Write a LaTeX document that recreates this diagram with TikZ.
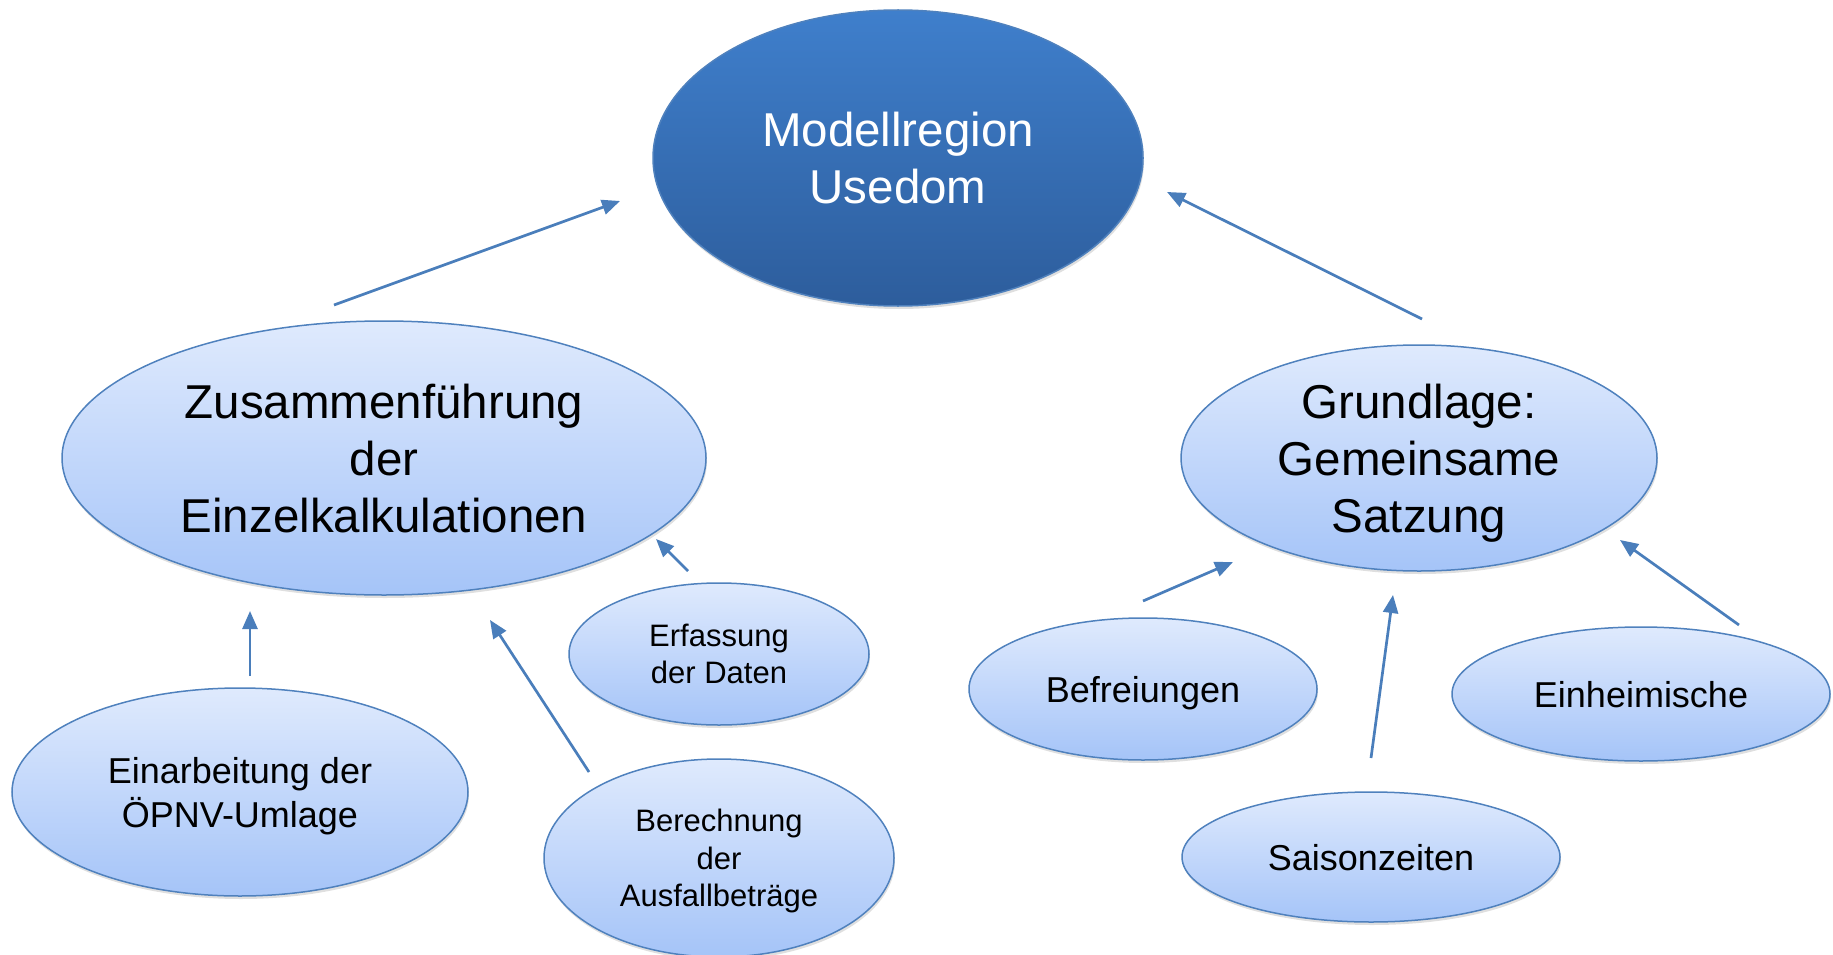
\documentclass[tikz,border=0pt]{standalone}
\usepackage{fontspec}
\setmainfont{Liberation Sans}
\usetikzlibrary{arrows.meta,shapes.geometric,shadows}
\definecolor{bordc}{HTML}{4F81BD}
\definecolor{arrc}{HTML}{4A7EBB}
\definecolor{lighttop}{HTML}{DFEAFD}
\definecolor{lightbot}{HTML}{A5C4F8}
\definecolor{darktop}{HTML}{3F7FCC}
\definecolor{darkbot}{HTML}{2D5D9C}
\tikzset{
  bub/.style={ellipse, draw=bordc, line width=1.5pt, inner sep=0pt, align=center,
    text depth=0pt, top color=lighttop, bottom color=lightbot, text=black,
    drop shadow={opacity=0.25, shadow xshift=1pt, shadow yshift=-3pt}},
  mainbub/.style={ellipse, draw=bordc, line width=1.5pt, inner sep=0pt, align=center,
    text depth=0pt, top color=darktop, bottom color=darkbot, text=white,
    drop shadow={opacity=0.25, shadow xshift=1pt, shadow yshift=-3pt}},
  big/.style={font=\fontsize{47.5}{57}\selectfont},
  mid/.style={font=\fontsize{36}{44}\selectfont},
  sml/.style={font=\fontsize{31}{37.5}\selectfont},
  arr/.style={draw=arrc, line width=2.7pt, -{Triangle[length=18pt,width=15pt]}}
}
\begin{document}
\begin{tikzpicture}[x=1pt,y=-1pt]
\useasboundingbox (0,0) rectangle (1833,955);
\node[mainbub, big, minimum width=490pt, minimum height=296pt] (top) at (898,158) {Modellregion\\Usedom};
\node[bub, big, minimum width=644pt, minimum height=274pt] (zus) at (384,458) {Zusammenführung\\der\\Einzelkalkulationen};
\node[bub, big, minimum width=476pt, minimum height=226pt] (grd) at (1419,458) {Grundlage:\\Gemeinsame\\Satzung};
\node[bub, sml, minimum width=300pt, minimum height=142pt] (erf) at (719,654) {Erfassung\\der Daten};
\node[bub, mid, minimum width=456pt, minimum height=208pt] (ein) at (240,792) {Einarbeitung der\\ÖPNV-Umlage};
\node[bub, sml, minimum width=350pt, minimum height=198pt] (ber) at (719,858) {Berechnung\\der\\Ausfallbeträge};
\node[bub, mid, minimum width=348pt, minimum height=142pt] (bef) at (1143,689) {Befreiungen};
\node[bub, mid, minimum width=378pt, minimum height=134pt] (heim) at (1641,694) {Einheimische};
\node[bub, mid, minimum width=378pt, minimum height=130pt] (sai) at (1371,857) {Saisonzeiten};

\coordinate (zusOut) at (334,305);
\coordinate (topInL) at (620,201);
\coordinate (grdOut) at (1422,319);
\coordinate (topInR) at (1167,192);
\coordinate (einOut) at (250,676);
\coordinate (zusInA) at (250,611);
\coordinate (erfOut) at (688,571);
\coordinate (zusInB) at (656,539);
\coordinate (berOut) at (589,772);
\coordinate (zusInC) at (490,620);
\coordinate (befOut) at (1143,601);
\coordinate (grdInA) at (1233,562);
\coordinate (saiOut) at (1371,758);
\coordinate (grdInB) at (1393,595);
\coordinate (heimOut) at (1739,625);
\coordinate (grdInC) at (1620,540);

\draw[arr] (zusOut) -- (topInL);
\draw[arr] (grdOut) -- (topInR);
\draw[arr] (einOut) -- (zusInA);
\draw[arr] (erfOut) -- (zusInB);
\draw[arr] (berOut) -- (zusInC);
\draw[arr] (befOut) -- (grdInA);
\draw[arr] (saiOut) -- (grdInB);
\draw[arr] (heimOut) -- (grdInC);
\end{tikzpicture}
\end{document}
